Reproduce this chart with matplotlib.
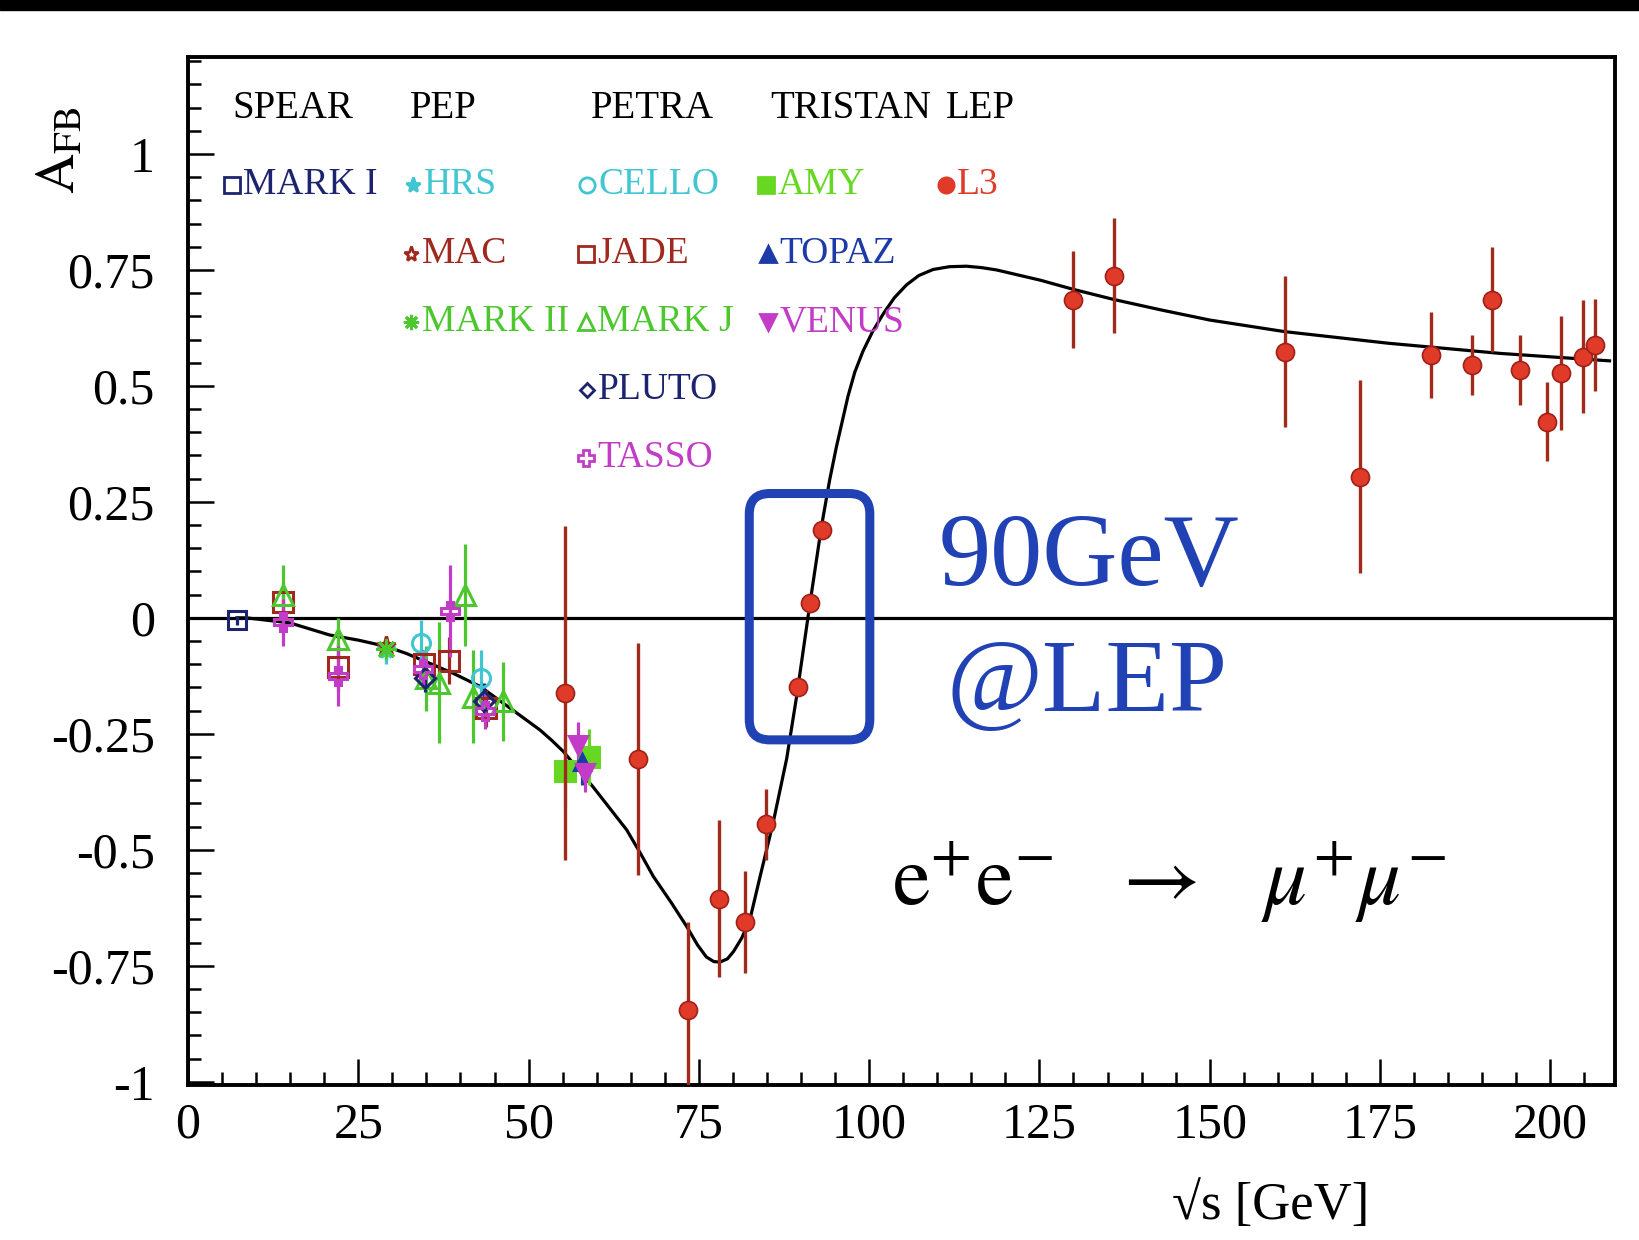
import matplotlib
matplotlib.use('Agg')
import matplotlib.pyplot as plt
from matplotlib.patches import FancyBboxPatch, Rectangle
from matplotlib.ticker import MultipleLocator, FuncFormatter

plt.rcParams['font.family'] = ['Liberation Serif', 'DejaVu Serif']
plt.rcParams['mathtext.fontset'] = 'stix'
plt.rcParams['axes.unicode_minus'] = False

# forward-backward asymmetry measurements: sqrt(s) [GeV], A_FB, error
markI_x = [7.2]
markI_y = [-0.005]
markI_e = [0.01]

hrs_x = [29.0]
hrs_y = [-0.07]
hrs_e = [0.03]

mac_x = [29.0]
mac_y = [-0.06]
mac_e = [0.02]

markII_x = [29.0]
markII_y = [-0.068]
markII_e = [0.02]

cello_x = [34.2, 43.0]
cello_y = [-0.055, -0.13]
cello_e = [0.05, 0.06]

jade_x = [14.0, 22.0, 34.6, 38.3, 43.8]
jade_y = [0.035, -0.107, -0.10, -0.092, -0.195]
jade_e = [0.04, 0.05, 0.03, 0.05, 0.04]

markJ_x = [14.0, 22.0, 35.0, 36.8, 40.7, 41.9, 46.3]
markJ_y = [0.05, -0.045, -0.13, -0.14, 0.05, -0.17, -0.18]
markJ_e = [0.065, 0.045, 0.07, 0.13, 0.11, 0.10, 0.085]

pluto_x = [34.8, 43.5]
pluto_y = [-0.13, -0.18]
pluto_e = [0.03, 0.04]

tasso_x = [14.0, 22.0, 34.5, 38.5, 43.6]
tasso_y = [-0.01, -0.125, -0.11, 0.015, -0.2]
tasso_e = [0.05, 0.065, 0.04, 0.10, 0.04]

amy_x = [55.3, 58.8]
amy_y = [-0.33, -0.30]
amy_e = [0.08, 0.06]

topaz_x = [57.8]
topaz_y = [-0.31]
topaz_e = [0.05]

venus_x = [57.2, 58.3]
venus_y = [-0.275, -0.335]
venus_e = [0.05, 0.04]

l3_x = [55.3, 66.1, 73.4, 78.0, 81.8, 84.9, 89.5, 91.3, 93.1, 130.0, 136.0,
        161.0, 172.0, 182.5, 188.5, 191.5, 195.5, 199.5, 201.5, 204.8, 206.5]
l3_y = [-0.162, -0.304, -0.846, -0.605, -0.656, -0.445, -0.149, 0.031, 0.189,
        0.686, 0.737, 0.574, 0.304, 0.566, 0.545, 0.686, 0.534, 0.423, 0.527,
        0.563, 0.588]
l3_e = [0.36, 0.25, 0.19, 0.17, 0.11, 0.077, 0.01, 0.01, 0.01, 0.105, 0.124,
        0.163, 0.208, 0.093, 0.064, 0.113, 0.075, 0.085, 0.123, 0.122, 0.10]

# standard model expectation
sm_x = [7.2, 8.6, 15.0, 20.8, 25.0, 29.2, 32.1, 35.5, 39.0, 42.9, 47.7, 51.7,
        53.4, 55.1, 57.2, 59.5, 61.9, 64.4, 66.4, 68.3, 71.0, 73.2, 74.8, 76.1,
        77.2, 78.1, 79.2, 80.1, 81.3, 82.5, 84.0, 85.9, 87.9, 89.4, 91.3, 93.0,
        94.2, 95.2, 96.9, 97.9, 99.1, 100.5, 102.1, 103.7, 105.5, 107.3, 109.4,
        111.8, 114.3, 116.5, 118.7, 125.1, 130.0, 136.0, 143.1, 150.0, 161.0,
        176.2, 192.7, 208.7]
sm_y = [0.0, 0.0, -0.011, -0.037, -0.048, -0.062, -0.077, -0.098, -0.12, -0.148,
        -0.199, -0.242, -0.264, -0.288, -0.325, -0.365, -0.41, -0.457, -0.507,
        -0.557, -0.615, -0.665, -0.705, -0.731, -0.741, -0.742, -0.735, -0.719,
        -0.69, -0.65, -0.557, -0.442, -0.303, -0.165, 0.03, 0.197, 0.297, 0.369,
        0.478, 0.53, 0.575, 0.617, 0.656, 0.69, 0.718, 0.738, 0.751, 0.757,
        0.758, 0.755, 0.750, 0.728, 0.708, 0.686, 0.663, 0.642, 0.617, 0.592,
        0.570, 0.554]

navy = '#1c2470'
cyan = '#3fc6d2'
dred = '#a0281e'
green = '#4cc82e'
lgreen = '#66d822'
blue = '#1c3aa8'
mag = '#c33cc8'
red = '#e03a28'
boxblue = '#2142b4'

fig = plt.figure(figsize=(16.39, 12.40), dpi=100)
ax = fig.add_axes([188 / 1639, 155 / 1240, 1427 / 1639, 1028 / 1240])
ax.set_xlim(0, 209.5)
ax.set_ylim(-1.007, 1.209)

ax.axhline(0, color='black', lw=2.3, zorder=1)
ax.plot(sm_x, sm_y, color='black', lw=2.3, zorder=2)

# x, y, err, marker, colour, filled, size
sets = [
    (markI_x, markI_y, markI_e, 's', navy, False, 13),
    (hrs_x, hrs_y, hrs_e, '*', cyan, True, 13),
    (mac_x, mac_y, mac_e, '*', dred, False, 14),
    (markII_x, markII_y, markII_e, (8, 2, 0), green, True, 15),
    (cello_x, cello_y, cello_e, 'o', cyan, False, 13),
    (jade_x, jade_y, jade_e, 's', dred, False, 14),
    (markJ_x, markJ_y, markJ_e, '^', green, False, 15),
    (pluto_x, pluto_y, pluto_e, 'D', navy, False, 10),
    (tasso_x, tasso_y, tasso_e, 'P', mag, False, 13),
    (amy_x, amy_y, amy_e, 's', lgreen, True, 14),
    (topaz_x, topaz_y, topaz_e, '^', blue, True, 12),
    (venus_x, venus_y, venus_e, 'v', mag, True, 13),
]
for x, y, e, m, c, filled, ms in sets:
    ax.errorbar(x, y, yerr=e, fmt='none', ecolor=c, elinewidth=2.3, zorder=3)
    ax.plot(x, y, ls='none', marker=m, ms=ms, mec=c, mew=2.2,
            mfc=c if filled else 'none', zorder=4)

ax.errorbar(l3_x, l3_y, yerr=l3_e, fmt='none', ecolor='#a02a1c', elinewidth=2.4,
            zorder=5)
ax.plot(l3_x, l3_y, ls='none', marker='o', ms=13, mfc=red, mec='#a02018',
        mew=1.2, zorder=6)

# experiment key
hdr_y = 1.099
for lab, xl in [('SPEAR', 6.5), ('PEP', 32.6), ('PETRA', 59.1),
                ('TRISTAN', 85.5), ('LEP', 111.3)]:
    ax.text(xl, hdr_y, lab, fontsize=28, color='black', va='center', ha='left')

key = [
    ('MARK I', 's', navy, False, 6.5, 0.933),
    ('HRS', '*', cyan, True, 33.0, 0.933),
    ('CELLO', 'o', cyan, False, 58.6, 0.933),
    ('AMY', 's', lgreen, True, 84.9, 0.933),
    ('L3', 'o', red, True, 111.3, 0.933),
    ('MAC', '*', dred, False, 32.7, 0.784),
    ('JADE', 's', dred, False, 58.5, 0.784),
    ('TOPAZ', '^', blue, True, 85.2, 0.784),
    ('MARK II', (8, 2, 0), green, True, 32.7, 0.638),
    ('MARK J', '^', green, False, 58.5, 0.638),
    ('VENUS', 'v', mag, True, 85.2, 0.638),
    ('PLUTO', 'D', navy, False, 58.6, 0.491),
    ('TASSO', 'P', mag, False, 58.5, 0.345),
]
for lab, m, c, filled, xm, yk in key:
    ax.plot([xm], [yk], ls='none', marker=m, ms=11 if m != 'D' else 7.5, mec=c,
            mew=2.0, mfc=c if filled else 'none', zorder=4)
    ax.text(xm + 1.6, yk, lab, fontsize=27, color=c, va='center', ha='left')

# Z-pole highlight
box = FancyBboxPatch((82.4, -0.263), 17.7, 0.531,
                     boxstyle='round,pad=0,rounding_size=3.0',
                     mutation_aspect=0.01468, ec=boxblue, fc='none', lw=6.5,
                     transform=ax.transData, zorder=7)
ax.add_patch(box)
ax.text(110.2, 0.071, '90GeV', fontsize=75, color=boxblue, ha='left',
        va='baseline')
ax.text(111.3, -0.2, '@LEP', fontsize=75, color=boxblue, ha='left',
        va='baseline')

ax.text(103.3, -0.619,
        r'$\mathrm{e}^{+}\mathrm{e}^{-}\;\;\;\rightarrow\;\;\;\mu^{+}\mu^{-}$',
        fontsize=61, color='black', ha='left', va='baseline')

# axes styling
for s in ax.spines.values():
    s.set_linewidth(2.8)
ax.xaxis.set_major_locator(MultipleLocator(25))
ax.xaxis.set_minor_locator(MultipleLocator(5))
ax.yaxis.set_major_locator(MultipleLocator(0.25))
ax.yaxis.set_minor_locator(MultipleLocator(0.05))
ax.xaxis.set_major_formatter(FuncFormatter(lambda v, p: '%g' % v))
ax.yaxis.set_major_formatter(FuncFormatter(lambda v, p: '%g' % v))
ax.tick_params(which='both', direction='in', top=False, right=False, width=1.8)
ax.tick_params(which='major', length=19)
ax.tick_params(which='minor', length=9.5)
ax.tick_params(axis='x', which='major', labelsize=36, pad=12)
ax.tick_params(axis='y', which='major', labelsize=36, pad=24)

ax.text(-0.0895, 0.9095, r'$\mathrm{A}_{\mathrm{FB}}$', rotation=90,
        transform=ax.transAxes, ha='center', va='center', fontsize=40)
ax.text(0.759, -0.117, '√s [GeV]', transform=ax.transAxes, ha='center',
        va='center', fontsize=38)

# dark strip along the top edge
fig.patches.append(Rectangle((0, 1 - 10 / 1240), 1, 10 / 1240,
                             transform=fig.transFigure, color='black'))

fig.savefig('out.png', dpi=100)
